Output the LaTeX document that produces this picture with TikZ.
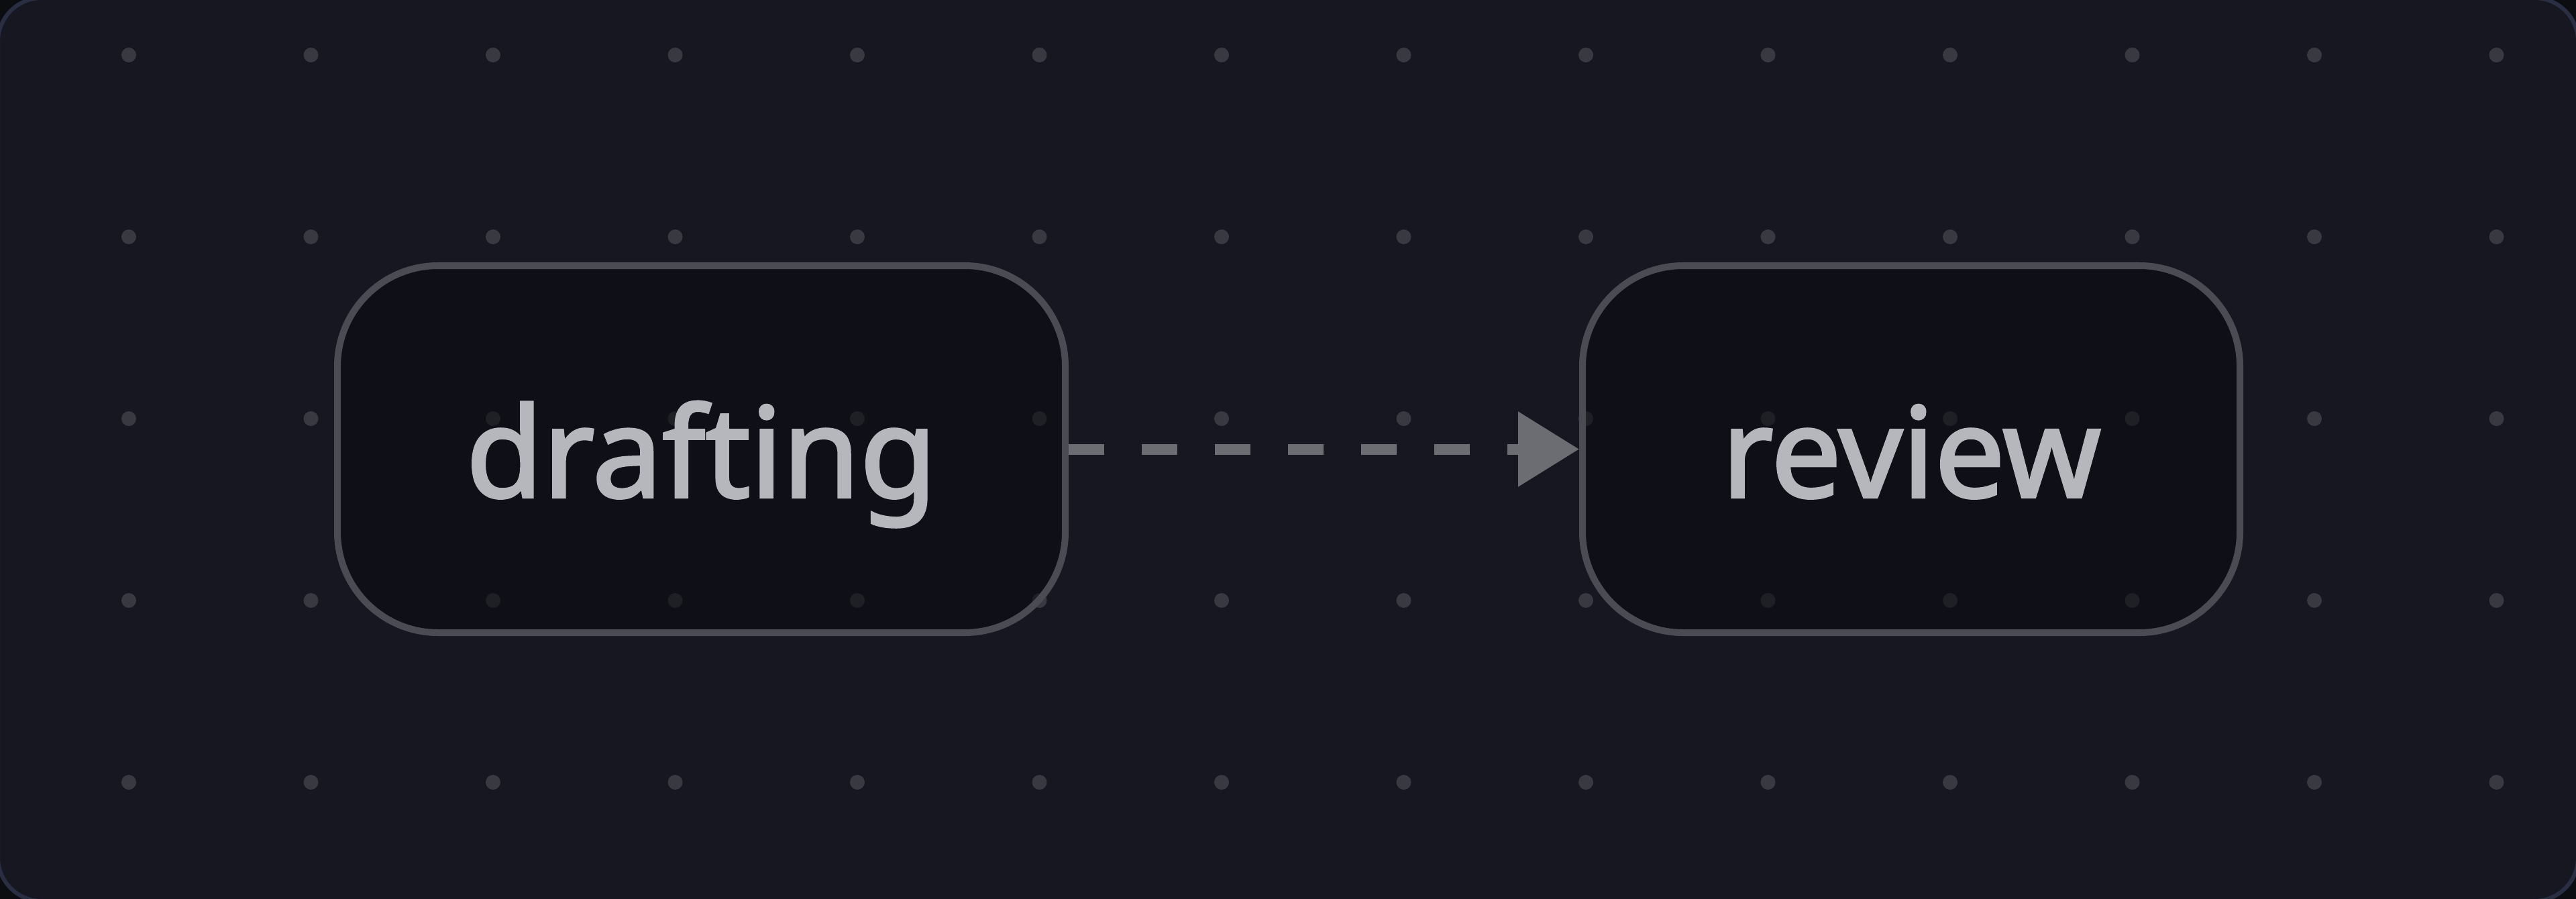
\documentclass[tikz,border=0pt]{standalone}
\usepackage{fontspec}
\setmainfont{Noto Sans}[AutoFakeBold=2.2]
\usepackage{tikz}
\usetikzlibrary{arrows.meta,positioning}
\definecolor{outerdark}{HTML}{0C0D10}
\definecolor{bgdark}{HTML}{161720}
\definecolor{bgedge}{HTML}{2A2E42}
\definecolor{griddot}{HTML}{383941}
\definecolor{boxfill}{HTML}{0B0C10}
\definecolor{boxline}{HTML}{4B4C53}
\definecolor{arrowgrey}{HTML}{6C6D73}
\definecolor{labelgrey}{HTML}{B6B7BD}

\begin{document}
\begin{tikzpicture}[>={Triangle[length=0.91cm,width=1.08cm]},node distance=7.61cm,
                    font=\fontsize{53}{60}\selectfont\bfseries]
      \tikzstyle{stage}=[draw=boxline,line width=0.1cm,rounded corners=1.5cm,
                         fill=boxfill,fill opacity=0.55,text opacity=1,text=labelgrey,
                         minimum height=5.47cm,text height=1.43cm,text depth=0pt]

      % canvas
      \fill[outerdark] (0,0) rectangle (38.4,-13.4);
      \useasboundingbox (0,0) rectangle (38.4,-13.4);
      \draw[fill=bgdark,draw=bgedge,line width=0.06cm,rounded corners=0.65cm]
            (-0.03,0.03) rectangle (38.43,-13.43);
      \foreach \i in {0,...,13}
        \foreach \j in {0,...,4}
          \fill[griddot] (1.92+2.715*\i,-0.82-2.71*\j) circle (0.11);

      \node[stage,minimum width=10.85cm] (D) at (10.455,-6.695) {drafting};
      \node[stage,minimum width=9.80cm] (R) [right=of D] {review};

      \path[->,draw=arrowgrey,fill=arrowgrey,line width=0.16cm,
            dash pattern=on 0.53cm off 0.56cm] (D) edge (R);

  \end{tikzpicture}
\end{document}
